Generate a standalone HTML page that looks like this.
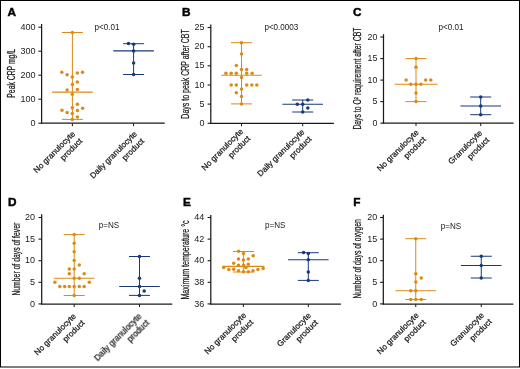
<!DOCTYPE html>
<html><head><meta charset="utf-8"><style>
html,body{margin:0;padding:0;background:#fff;}
body{width:520px;height:369px;overflow:hidden;}
svg{display:block;font-family:"Liberation Sans", sans-serif;}
text{fill:#1a1a1a;}
.ti{stroke:#1a1a1a;stroke-width:0.25px;}
.lt{stroke:#000;stroke-width:0.45px;fill:#000;}
.xl{stroke:#1a1a1a;stroke-width:0.25px;}
</style></head><body>
<svg width="520" height="369" viewBox="0 0 520 369">
<rect x="0" y="0" width="520" height="369" fill="#fff"/>
<rect x="0.5" y="0.5" width="519" height="366.5" fill="none" stroke="#000" stroke-width="1"/>
<line x1="41.60" y1="24.00" x2="41.60" y2="123.80" stroke="#1a1a1a" stroke-width="1.25"/>
<line x1="41.00" y1="123.20" x2="164.80" y2="123.20" stroke="#1a1a1a" stroke-width="1.25"/>
<line x1="38.40" y1="27.20" x2="41.60" y2="27.20" stroke="#1a1a1a" stroke-width="1.1"/>
<line x1="38.40" y1="51.20" x2="41.60" y2="51.20" stroke="#1a1a1a" stroke-width="1.1"/>
<line x1="38.40" y1="75.20" x2="41.60" y2="75.20" stroke="#1a1a1a" stroke-width="1.1"/>
<line x1="38.40" y1="99.20" x2="41.60" y2="99.20" stroke="#1a1a1a" stroke-width="1.1"/>
<line x1="38.40" y1="123.20" x2="41.60" y2="123.20" stroke="#1a1a1a" stroke-width="1.1"/>
<line x1="72.40" y1="123.20" x2="72.40" y2="126.20" stroke="#1a1a1a" stroke-width="1.0"/>
<line x1="133.60" y1="123.20" x2="133.60" y2="126.20" stroke="#1a1a1a" stroke-width="1.0"/>
<line x1="72.40" y1="32.50" x2="72.40" y2="119.40" stroke="#DB8A14" stroke-width="1.0"/>
<line x1="61.90" y1="32.50" x2="82.90" y2="32.50" stroke="#DB8A14" stroke-width="1.0"/>
<line x1="61.90" y1="119.40" x2="82.90" y2="119.40" stroke="#DB8A14" stroke-width="1.0"/>
<line x1="52.10" y1="92.10" x2="92.70" y2="92.10" stroke="#DB8A14" stroke-width="1.1"/>
<circle cx="72.40" cy="32.50" r="1.75" fill="#DB8A14"/>
<circle cx="61.80" cy="72.30" r="1.75" fill="#DB8A14"/>
<circle cx="67.10" cy="74.70" r="1.75" fill="#DB8A14"/>
<circle cx="72.30" cy="76.90" r="1.75" fill="#DB8A14"/>
<circle cx="77.30" cy="72.90" r="1.75" fill="#DB8A14"/>
<circle cx="82.50" cy="72.30" r="1.75" fill="#DB8A14"/>
<circle cx="77.30" cy="81.90" r="1.75" fill="#DB8A14"/>
<circle cx="72.40" cy="84.40" r="1.75" fill="#DB8A14"/>
<circle cx="67.10" cy="90.00" r="1.75" fill="#DB8A14"/>
<circle cx="77.40" cy="89.50" r="1.75" fill="#DB8A14"/>
<circle cx="72.30" cy="94.30" r="1.75" fill="#DB8A14"/>
<circle cx="77.40" cy="104.30" r="1.75" fill="#DB8A14"/>
<circle cx="72.30" cy="107.80" r="1.75" fill="#DB8A14"/>
<circle cx="82.60" cy="108.30" r="1.75" fill="#DB8A14"/>
<circle cx="62.00" cy="110.30" r="1.75" fill="#DB8A14"/>
<circle cx="67.10" cy="112.40" r="1.75" fill="#DB8A14"/>
<circle cx="77.40" cy="110.50" r="1.75" fill="#DB8A14"/>
<circle cx="72.30" cy="113.60" r="1.75" fill="#DB8A14"/>
<circle cx="77.40" cy="117.10" r="1.75" fill="#DB8A14"/>
<circle cx="72.30" cy="119.40" r="1.75" fill="#DB8A14"/>
<line x1="133.60" y1="43.70" x2="133.60" y2="74.50" stroke="#17397A" stroke-width="1.0"/>
<line x1="123.10" y1="43.70" x2="144.10" y2="43.70" stroke="#17397A" stroke-width="1.0"/>
<line x1="123.10" y1="74.50" x2="144.10" y2="74.50" stroke="#17397A" stroke-width="1.0"/>
<line x1="113.30" y1="50.90" x2="153.90" y2="50.90" stroke="#17397A" stroke-width="1.1"/>
<circle cx="128.50" cy="43.50" r="1.75" fill="#17397A"/>
<circle cx="133.60" cy="44.30" r="1.75" fill="#17397A"/>
<circle cx="133.60" cy="50.90" r="1.75" fill="#17397A"/>
<circle cx="133.60" cy="62.90" r="1.75" fill="#17397A"/>
<circle cx="133.60" cy="74.50" r="1.75" fill="#17397A"/>
<line x1="210.80" y1="24.50" x2="210.80" y2="123.90" stroke="#1a1a1a" stroke-width="1.25"/>
<line x1="210.20" y1="123.30" x2="333.90" y2="123.30" stroke="#1a1a1a" stroke-width="1.25"/>
<line x1="207.60" y1="27.50" x2="210.80" y2="27.50" stroke="#1a1a1a" stroke-width="1.1"/>
<line x1="207.60" y1="46.70" x2="210.80" y2="46.70" stroke="#1a1a1a" stroke-width="1.1"/>
<line x1="207.60" y1="65.80" x2="210.80" y2="65.80" stroke="#1a1a1a" stroke-width="1.1"/>
<line x1="207.60" y1="85.00" x2="210.80" y2="85.00" stroke="#1a1a1a" stroke-width="1.1"/>
<line x1="207.60" y1="104.10" x2="210.80" y2="104.10" stroke="#1a1a1a" stroke-width="1.1"/>
<line x1="207.60" y1="123.30" x2="210.80" y2="123.30" stroke="#1a1a1a" stroke-width="1.1"/>
<line x1="241.50" y1="123.30" x2="241.50" y2="126.30" stroke="#1a1a1a" stroke-width="1.0"/>
<line x1="302.70" y1="123.30" x2="302.70" y2="126.30" stroke="#1a1a1a" stroke-width="1.0"/>
<line x1="241.50" y1="42.70" x2="241.50" y2="103.90" stroke="#DB8A14" stroke-width="1.0"/>
<line x1="231.00" y1="42.70" x2="252.00" y2="42.70" stroke="#DB8A14" stroke-width="1.0"/>
<line x1="231.00" y1="103.90" x2="252.00" y2="103.90" stroke="#DB8A14" stroke-width="1.0"/>
<line x1="221.20" y1="75.30" x2="261.80" y2="75.30" stroke="#DB8A14" stroke-width="1.1"/>
<circle cx="241.50" cy="42.70" r="1.75" fill="#DB8A14"/>
<circle cx="241.50" cy="53.90" r="1.75" fill="#DB8A14"/>
<circle cx="236.30" cy="65.50" r="1.75" fill="#DB8A14"/>
<circle cx="241.50" cy="69.50" r="1.75" fill="#DB8A14"/>
<circle cx="246.70" cy="69.50" r="1.75" fill="#DB8A14"/>
<circle cx="225.90" cy="73.20" r="1.75" fill="#DB8A14"/>
<circle cx="231.20" cy="73.20" r="1.75" fill="#DB8A14"/>
<circle cx="236.30" cy="73.20" r="1.75" fill="#DB8A14"/>
<circle cx="246.70" cy="73.20" r="1.75" fill="#DB8A14"/>
<circle cx="252.10" cy="73.20" r="1.75" fill="#DB8A14"/>
<circle cx="241.50" cy="77.40" r="1.75" fill="#DB8A14"/>
<circle cx="231.20" cy="85.00" r="1.75" fill="#DB8A14"/>
<circle cx="236.30" cy="85.00" r="1.75" fill="#DB8A14"/>
<circle cx="246.70" cy="85.00" r="1.75" fill="#DB8A14"/>
<circle cx="251.90" cy="85.00" r="1.75" fill="#DB8A14"/>
<circle cx="256.80" cy="85.00" r="1.75" fill="#DB8A14"/>
<circle cx="241.50" cy="89.00" r="1.75" fill="#DB8A14"/>
<circle cx="236.30" cy="92.70" r="1.75" fill="#DB8A14"/>
<circle cx="241.50" cy="96.60" r="1.75" fill="#DB8A14"/>
<circle cx="241.50" cy="103.90" r="1.75" fill="#DB8A14"/>
<line x1="302.70" y1="100.00" x2="302.70" y2="112.00" stroke="#17397A" stroke-width="1.0"/>
<line x1="292.20" y1="100.00" x2="313.20" y2="100.00" stroke="#17397A" stroke-width="1.0"/>
<line x1="292.20" y1="112.00" x2="313.20" y2="112.00" stroke="#17397A" stroke-width="1.0"/>
<line x1="282.40" y1="104.20" x2="323.00" y2="104.20" stroke="#17397A" stroke-width="1.1"/>
<circle cx="307.80" cy="100.00" r="1.75" fill="#17397A"/>
<circle cx="297.30" cy="104.20" r="1.75" fill="#17397A"/>
<circle cx="302.70" cy="104.20" r="1.75" fill="#17397A"/>
<circle cx="307.80" cy="108.00" r="1.75" fill="#17397A"/>
<circle cx="302.70" cy="112.00" r="1.75" fill="#17397A"/>
<line x1="383.50" y1="34.20" x2="383.50" y2="123.70" stroke="#1a1a1a" stroke-width="1.25"/>
<line x1="382.90" y1="123.10" x2="513.60" y2="123.10" stroke="#1a1a1a" stroke-width="1.25"/>
<line x1="380.30" y1="37.00" x2="383.50" y2="37.00" stroke="#1a1a1a" stroke-width="1.1"/>
<line x1="380.30" y1="58.60" x2="383.50" y2="58.60" stroke="#1a1a1a" stroke-width="1.1"/>
<line x1="380.30" y1="80.10" x2="383.50" y2="80.10" stroke="#1a1a1a" stroke-width="1.1"/>
<line x1="380.30" y1="101.60" x2="383.50" y2="101.60" stroke="#1a1a1a" stroke-width="1.1"/>
<line x1="380.30" y1="123.10" x2="383.50" y2="123.10" stroke="#1a1a1a" stroke-width="1.1"/>
<line x1="416.00" y1="123.10" x2="416.00" y2="126.10" stroke="#1a1a1a" stroke-width="1.0"/>
<line x1="480.70" y1="123.10" x2="480.70" y2="126.10" stroke="#1a1a1a" stroke-width="1.0"/>
<line x1="416.00" y1="58.60" x2="416.00" y2="101.60" stroke="#DB8A14" stroke-width="1.0"/>
<line x1="405.50" y1="58.60" x2="426.50" y2="58.60" stroke="#DB8A14" stroke-width="1.0"/>
<line x1="405.50" y1="101.60" x2="426.50" y2="101.60" stroke="#DB8A14" stroke-width="1.0"/>
<line x1="394.50" y1="84.20" x2="437.50" y2="84.20" stroke="#DB8A14" stroke-width="1.1"/>
<circle cx="416.00" cy="58.60" r="1.75" fill="#DB8A14"/>
<circle cx="416.00" cy="67.20" r="1.75" fill="#DB8A14"/>
<circle cx="406.10" cy="80.10" r="1.75" fill="#DB8A14"/>
<circle cx="425.70" cy="80.10" r="1.75" fill="#DB8A14"/>
<circle cx="430.80" cy="80.10" r="1.75" fill="#DB8A14"/>
<circle cx="410.80" cy="84.20" r="1.75" fill="#DB8A14"/>
<circle cx="416.00" cy="84.20" r="1.75" fill="#DB8A14"/>
<circle cx="420.90" cy="84.20" r="1.75" fill="#DB8A14"/>
<circle cx="416.00" cy="93.00" r="1.75" fill="#DB8A14"/>
<circle cx="416.00" cy="101.60" r="1.75" fill="#DB8A14"/>
<line x1="480.70" y1="97.00" x2="480.70" y2="114.70" stroke="#17397A" stroke-width="1.0"/>
<line x1="470.20" y1="97.00" x2="491.20" y2="97.00" stroke="#17397A" stroke-width="1.0"/>
<line x1="470.20" y1="114.70" x2="491.20" y2="114.70" stroke="#17397A" stroke-width="1.0"/>
<line x1="460.40" y1="106.00" x2="501.00" y2="106.00" stroke="#17397A" stroke-width="1.1"/>
<circle cx="480.70" cy="97.00" r="1.75" fill="#17397A"/>
<circle cx="480.70" cy="106.00" r="1.75" fill="#17397A"/>
<circle cx="480.70" cy="114.70" r="1.75" fill="#17397A"/>
<line x1="41.70" y1="214.20" x2="41.70" y2="304.60" stroke="#1a1a1a" stroke-width="1.25"/>
<line x1="41.10" y1="304.00" x2="172.30" y2="304.00" stroke="#1a1a1a" stroke-width="1.25"/>
<line x1="38.50" y1="217.50" x2="41.70" y2="217.50" stroke="#1a1a1a" stroke-width="1.1"/>
<line x1="38.50" y1="239.10" x2="41.70" y2="239.10" stroke="#1a1a1a" stroke-width="1.1"/>
<line x1="38.50" y1="260.70" x2="41.70" y2="260.70" stroke="#1a1a1a" stroke-width="1.1"/>
<line x1="38.50" y1="282.30" x2="41.70" y2="282.30" stroke="#1a1a1a" stroke-width="1.1"/>
<line x1="38.50" y1="303.90" x2="41.70" y2="303.90" stroke="#1a1a1a" stroke-width="1.1"/>
<line x1="74.20" y1="304.00" x2="74.20" y2="307.00" stroke="#1a1a1a" stroke-width="1.0"/>
<line x1="139.50" y1="304.00" x2="139.50" y2="307.00" stroke="#1a1a1a" stroke-width="1.0"/>
<line x1="74.20" y1="234.60" x2="74.20" y2="295.50" stroke="#DB8A14" stroke-width="1.0"/>
<line x1="63.70" y1="234.60" x2="84.70" y2="234.60" stroke="#DB8A14" stroke-width="1.0"/>
<line x1="63.70" y1="295.50" x2="84.70" y2="295.50" stroke="#DB8A14" stroke-width="1.0"/>
<line x1="53.90" y1="278.30" x2="94.50" y2="278.30" stroke="#DB8A14" stroke-width="1.1"/>
<circle cx="74.20" cy="234.60" r="1.75" fill="#DB8A14"/>
<circle cx="74.20" cy="243.30" r="1.75" fill="#DB8A14"/>
<circle cx="74.20" cy="251.80" r="1.75" fill="#DB8A14"/>
<circle cx="74.20" cy="260.60" r="1.75" fill="#DB8A14"/>
<circle cx="79.30" cy="265.00" r="1.75" fill="#DB8A14"/>
<circle cx="69.30" cy="269.10" r="1.75" fill="#DB8A14"/>
<circle cx="74.20" cy="269.10" r="1.75" fill="#DB8A14"/>
<circle cx="69.30" cy="273.80" r="1.75" fill="#DB8A14"/>
<circle cx="84.20" cy="273.80" r="1.75" fill="#DB8A14"/>
<circle cx="74.20" cy="278.30" r="1.75" fill="#DB8A14"/>
<circle cx="79.30" cy="278.30" r="1.75" fill="#DB8A14"/>
<circle cx="54.90" cy="282.30" r="1.75" fill="#DB8A14"/>
<circle cx="89.30" cy="282.30" r="1.75" fill="#DB8A14"/>
<circle cx="59.80" cy="286.60" r="1.75" fill="#DB8A14"/>
<circle cx="64.70" cy="286.60" r="1.75" fill="#DB8A14"/>
<circle cx="69.30" cy="286.60" r="1.75" fill="#DB8A14"/>
<circle cx="74.20" cy="286.60" r="1.75" fill="#DB8A14"/>
<circle cx="79.30" cy="286.60" r="1.75" fill="#DB8A14"/>
<circle cx="84.20" cy="286.60" r="1.75" fill="#DB8A14"/>
<circle cx="74.20" cy="295.50" r="1.75" fill="#DB8A14"/>
<line x1="139.50" y1="256.50" x2="139.50" y2="295.40" stroke="#17397A" stroke-width="1.0"/>
<line x1="129.00" y1="256.50" x2="150.00" y2="256.50" stroke="#17397A" stroke-width="1.0"/>
<line x1="129.00" y1="295.40" x2="150.00" y2="295.40" stroke="#17397A" stroke-width="1.0"/>
<line x1="119.20" y1="286.50" x2="159.80" y2="286.50" stroke="#17397A" stroke-width="1.1"/>
<circle cx="139.50" cy="256.50" r="1.75" fill="#17397A"/>
<circle cx="139.50" cy="278.30" r="1.75" fill="#17397A"/>
<circle cx="139.50" cy="286.50" r="1.75" fill="#17397A"/>
<circle cx="144.20" cy="291.00" r="1.75" fill="#17397A"/>
<circle cx="139.50" cy="295.40" r="1.75" fill="#17397A"/>
<line x1="210.80" y1="215.00" x2="210.80" y2="304.60" stroke="#1a1a1a" stroke-width="1.25"/>
<line x1="210.20" y1="304.00" x2="340.90" y2="304.00" stroke="#1a1a1a" stroke-width="1.25"/>
<line x1="207.60" y1="217.50" x2="210.80" y2="217.50" stroke="#1a1a1a" stroke-width="1.1"/>
<line x1="207.60" y1="239.10" x2="210.80" y2="239.10" stroke="#1a1a1a" stroke-width="1.1"/>
<line x1="207.60" y1="260.70" x2="210.80" y2="260.70" stroke="#1a1a1a" stroke-width="1.1"/>
<line x1="207.60" y1="282.30" x2="210.80" y2="282.30" stroke="#1a1a1a" stroke-width="1.1"/>
<line x1="207.60" y1="303.90" x2="210.80" y2="303.90" stroke="#1a1a1a" stroke-width="1.1"/>
<line x1="243.40" y1="304.00" x2="243.40" y2="307.00" stroke="#1a1a1a" stroke-width="1.0"/>
<line x1="308.30" y1="304.00" x2="308.30" y2="307.00" stroke="#1a1a1a" stroke-width="1.0"/>
<line x1="243.40" y1="251.50" x2="243.40" y2="272.00" stroke="#DB8A14" stroke-width="1.0"/>
<line x1="232.90" y1="251.50" x2="253.90" y2="251.50" stroke="#DB8A14" stroke-width="1.0"/>
<line x1="232.90" y1="272.00" x2="253.90" y2="272.00" stroke="#DB8A14" stroke-width="1.0"/>
<line x1="222.40" y1="266.40" x2="264.40" y2="266.40" stroke="#DB8A14" stroke-width="1.1"/>
<circle cx="238.60" cy="251.30" r="1.75" fill="#DB8A14"/>
<circle cx="243.50" cy="253.50" r="1.75" fill="#DB8A14"/>
<circle cx="253.20" cy="255.70" r="1.75" fill="#DB8A14"/>
<circle cx="238.50" cy="258.90" r="1.75" fill="#DB8A14"/>
<circle cx="248.30" cy="258.90" r="1.75" fill="#DB8A14"/>
<circle cx="243.50" cy="260.10" r="1.75" fill="#DB8A14"/>
<circle cx="233.70" cy="263.30" r="1.75" fill="#DB8A14"/>
<circle cx="238.50" cy="265.20" r="1.75" fill="#DB8A14"/>
<circle cx="243.50" cy="265.00" r="1.75" fill="#DB8A14"/>
<circle cx="248.30" cy="264.20" r="1.75" fill="#DB8A14"/>
<circle cx="223.70" cy="267.50" r="1.75" fill="#DB8A14"/>
<circle cx="245.90" cy="267.50" r="1.75" fill="#DB8A14"/>
<circle cx="263.20" cy="268.40" r="1.75" fill="#DB8A14"/>
<circle cx="228.80" cy="269.50" r="1.75" fill="#DB8A14"/>
<circle cx="233.70" cy="269.30" r="1.75" fill="#DB8A14"/>
<circle cx="257.90" cy="269.50" r="1.75" fill="#DB8A14"/>
<circle cx="238.50" cy="270.70" r="1.75" fill="#DB8A14"/>
<circle cx="253.00" cy="270.70" r="1.75" fill="#DB8A14"/>
<circle cx="243.50" cy="271.80" r="1.75" fill="#DB8A14"/>
<circle cx="248.30" cy="271.80" r="1.75" fill="#DB8A14"/>
<line x1="308.30" y1="252.70" x2="308.30" y2="280.40" stroke="#17397A" stroke-width="1.0"/>
<line x1="297.80" y1="252.70" x2="318.80" y2="252.70" stroke="#17397A" stroke-width="1.0"/>
<line x1="297.80" y1="280.40" x2="318.80" y2="280.40" stroke="#17397A" stroke-width="1.0"/>
<line x1="288.00" y1="259.70" x2="328.60" y2="259.70" stroke="#17397A" stroke-width="1.1"/>
<circle cx="303.60" cy="252.50" r="1.75" fill="#17397A"/>
<circle cx="308.30" cy="253.50" r="1.75" fill="#17397A"/>
<circle cx="308.30" cy="259.70" r="1.75" fill="#17397A"/>
<circle cx="308.30" cy="271.90" r="1.75" fill="#17397A"/>
<circle cx="308.30" cy="280.40" r="1.75" fill="#17397A"/>
<line x1="383.30" y1="214.80" x2="383.30" y2="304.60" stroke="#1a1a1a" stroke-width="1.25"/>
<line x1="382.70" y1="304.00" x2="513.40" y2="304.00" stroke="#1a1a1a" stroke-width="1.25"/>
<line x1="380.10" y1="217.50" x2="383.30" y2="217.50" stroke="#1a1a1a" stroke-width="1.1"/>
<line x1="380.10" y1="239.10" x2="383.30" y2="239.10" stroke="#1a1a1a" stroke-width="1.1"/>
<line x1="380.10" y1="260.70" x2="383.30" y2="260.70" stroke="#1a1a1a" stroke-width="1.1"/>
<line x1="380.10" y1="282.30" x2="383.30" y2="282.30" stroke="#1a1a1a" stroke-width="1.1"/>
<line x1="380.10" y1="303.90" x2="383.30" y2="303.90" stroke="#1a1a1a" stroke-width="1.1"/>
<line x1="415.75" y1="304.00" x2="415.75" y2="307.00" stroke="#1a1a1a" stroke-width="1.0"/>
<line x1="481.25" y1="304.00" x2="481.25" y2="307.00" stroke="#1a1a1a" stroke-width="1.0"/>
<line x1="415.75" y1="238.70" x2="415.75" y2="299.50" stroke="#DB8A14" stroke-width="1.0"/>
<line x1="405.25" y1="238.70" x2="426.25" y2="238.70" stroke="#DB8A14" stroke-width="1.0"/>
<line x1="405.25" y1="299.50" x2="426.25" y2="299.50" stroke="#DB8A14" stroke-width="1.0"/>
<line x1="395.45" y1="290.75" x2="436.05" y2="290.75" stroke="#DB8A14" stroke-width="1.1"/>
<circle cx="415.75" cy="238.70" r="1.75" fill="#DB8A14"/>
<circle cx="415.75" cy="273.75" r="1.75" fill="#DB8A14"/>
<circle cx="421.25" cy="278.00" r="1.75" fill="#DB8A14"/>
<circle cx="415.75" cy="282.00" r="1.75" fill="#DB8A14"/>
<circle cx="410.75" cy="290.75" r="1.75" fill="#DB8A14"/>
<circle cx="415.75" cy="290.75" r="1.75" fill="#DB8A14"/>
<circle cx="410.75" cy="299.50" r="1.75" fill="#DB8A14"/>
<circle cx="415.75" cy="299.50" r="1.75" fill="#DB8A14"/>
<circle cx="421.25" cy="299.50" r="1.75" fill="#DB8A14"/>
<line x1="481.25" y1="256.25" x2="481.25" y2="278.00" stroke="#17397A" stroke-width="1.0"/>
<line x1="470.75" y1="256.25" x2="491.75" y2="256.25" stroke="#17397A" stroke-width="1.0"/>
<line x1="470.75" y1="278.00" x2="491.75" y2="278.00" stroke="#17397A" stroke-width="1.0"/>
<line x1="460.95" y1="265.50" x2="501.55" y2="265.50" stroke="#17397A" stroke-width="1.1"/>
<circle cx="481.25" cy="256.25" r="1.75" fill="#17397A"/>
<circle cx="481.25" cy="265.50" r="1.75" fill="#17397A"/>
<circle cx="481.25" cy="278.00" r="1.75" fill="#17397A"/>
<g style="filter:grayscale(1)">
<text x="7.50" y="15.80" font-size="11.8" text-anchor="start" font-weight="bold" class="lt">A</text>
<text x="35.50" y="29.80" font-size="9.0" text-anchor="end" font-weight="normal" >400</text>
<text x="35.50" y="53.80" font-size="9.0" text-anchor="end" font-weight="normal" >300</text>
<text x="35.50" y="77.80" font-size="9.0" text-anchor="end" font-weight="normal" >200</text>
<text x="35.50" y="101.80" font-size="9.0" text-anchor="end" font-weight="normal" >100</text>
<text x="35.50" y="125.80" font-size="9.0" text-anchor="end" font-weight="normal" >0</text>
<text class="ti" transform="translate(14.6,73.3) rotate(-90) scale(0.684,1)" font-size="10.0" text-anchor="middle">Peak CRP mg/L</text>
<text transform="translate(94.6,30.0) scale(0.92,1)" font-size="8.8">p&lt;0.01</text>
<g transform="translate(75.70,134.50) rotate(-45)"><text class="xl" font-size="8.2" text-anchor="end"><tspan x="0" y="0">No granulocyte</tspan><tspan x="0" y="10">product</tspan></text></g>
<g transform="translate(137.60,134.50) rotate(-45)"><text class="xl" font-size="8.2" text-anchor="end"><tspan x="0" y="0">Daily granulocyte</tspan><tspan x="0" y="10">product</tspan></text></g>
<text x="181.90" y="15.90" font-size="11.8" text-anchor="start" font-weight="bold" class="lt">B</text>
<text x="204.40" y="30.10" font-size="9.0" text-anchor="end" font-weight="normal" >25</text>
<text x="204.40" y="49.30" font-size="9.0" text-anchor="end" font-weight="normal" >20</text>
<text x="204.40" y="68.40" font-size="9.0" text-anchor="end" font-weight="normal" >15</text>
<text x="204.40" y="87.60" font-size="9.0" text-anchor="end" font-weight="normal" >10</text>
<text x="204.40" y="106.70" font-size="9.0" text-anchor="end" font-weight="normal" >5</text>
<text x="204.40" y="125.90" font-size="9.0" text-anchor="end" font-weight="normal" >0</text>
<text class="ti" transform="translate(188.6,73.9) rotate(-90) scale(0.702,1)" font-size="10.0" text-anchor="middle">Days to peak CRP after CBT</text>
<text transform="translate(264.4,30.0) scale(0.92,1)" font-size="8.8">p&lt;0.0003</text>
<g transform="translate(243.70,132.00) rotate(-45)"><text class="xl" font-size="8.2" text-anchor="end"><tspan x="0" y="0">No granulocyte</tspan><tspan x="0" y="10">product</tspan></text></g>
<g transform="translate(305.00,132.50) rotate(-45)"><text class="xl" font-size="8.2" text-anchor="end"><tspan x="0" y="0">Daily granulocyte</tspan><tspan x="0" y="10">product</tspan></text></g>
<text x="352.90" y="15.80" font-size="11.8" text-anchor="start" font-weight="bold" class="lt">C</text>
<text x="377.30" y="39.60" font-size="8.8" text-anchor="end" font-weight="normal" >20</text>
<text x="377.30" y="61.20" font-size="8.8" text-anchor="end" font-weight="normal" >15</text>
<text x="377.30" y="82.70" font-size="8.8" text-anchor="end" font-weight="normal" >10</text>
<text x="377.30" y="104.20" font-size="8.8" text-anchor="end" font-weight="normal" >5</text>
<text x="377.30" y="125.70" font-size="8.8" text-anchor="end" font-weight="normal" >0</text>
<text class="ti" transform="translate(361.3,78.6) rotate(-90) scale(0.684,1)" font-size="10.0" text-anchor="middle">Days to O<tspan font-size="6" dy="-3.3">2</tspan><tspan dy="3.3"> requirement after CBT</tspan></text>
<text transform="translate(438.5,30.0) scale(0.92,1)" font-size="8.8">p&lt;0.01</text>
<g transform="translate(419.20,132.90) rotate(-45)"><text class="xl" font-size="8.2" text-anchor="end"><tspan x="0" y="0">No granulocyte</tspan><tspan x="0" y="10">product</tspan></text></g>
<g transform="translate(482.70,133.50) rotate(-45)"><text class="xl" font-size="8.2" text-anchor="end"><tspan x="0" y="0">Granulocyte</tspan><tspan x="0" y="10">product</tspan></text></g>
<text x="7.90" y="205.80" font-size="11.8" text-anchor="start" font-weight="bold" class="lt">D</text>
<text x="35.10" y="220.10" font-size="9.0" text-anchor="end" font-weight="normal" >20</text>
<text x="35.10" y="241.70" font-size="9.0" text-anchor="end" font-weight="normal" >15</text>
<text x="35.10" y="263.30" font-size="9.0" text-anchor="end" font-weight="normal" >10</text>
<text x="35.10" y="284.90" font-size="9.0" text-anchor="end" font-weight="normal" >5</text>
<text x="35.10" y="306.50" font-size="9.0" text-anchor="end" font-weight="normal" >0</text>
<text class="ti" transform="translate(19.5,259.2) rotate(-90) scale(0.684,1)" font-size="10.0" text-anchor="middle">Number of days of fever</text>
<text transform="translate(98.8,228.2) scale(0.92,1)" font-size="8.8">p=NS</text>
<g transform="translate(76.50,316.70) rotate(-45)"><text class="xl" font-size="8.2" text-anchor="end"><tspan x="0" y="0">No granulocyte</tspan><tspan x="1.5" y="10.8">product</tspan></text></g>
<g transform="translate(142.00,317.00) rotate(-45)"><text class="xl" font-size="8.2" text-anchor="end"><tspan x="0" y="0">Daily granulocyte</tspan><tspan x="1.0" y="10.3">product</tspan></text></g>
<text x="182.90" y="205.80" font-size="11.8" text-anchor="start" font-weight="bold" class="lt">E</text>
<text x="204.20" y="220.10" font-size="9.0" text-anchor="end" font-weight="normal" >44</text>
<text x="204.20" y="241.70" font-size="9.0" text-anchor="end" font-weight="normal" >42</text>
<text x="204.20" y="263.30" font-size="9.0" text-anchor="end" font-weight="normal" >40</text>
<text x="204.20" y="284.90" font-size="9.0" text-anchor="end" font-weight="normal" >38</text>
<text x="204.20" y="306.50" font-size="9.0" text-anchor="end" font-weight="normal" >36</text>
<text class="ti" transform="translate(188.7,260.0) rotate(-90) scale(0.7083,1)" font-size="10.0" text-anchor="middle">Maximum temperature °c</text>
<text transform="translate(265.0,228.2) scale(0.92,1)" font-size="8.8">p=NS</text>
<g transform="translate(246.70,315.80) rotate(-45)"><text class="xl" font-size="8.2" text-anchor="end"><tspan x="0" y="0">No granulocyte</tspan><tspan x="0" y="10">product</tspan></text></g>
<g transform="translate(311.40,316.00) rotate(-45)"><text class="xl" font-size="8.2" text-anchor="end"><tspan x="0" y="0">Granulocyte</tspan><tspan x="0" y="10">product</tspan></text></g>
<text x="353.30" y="205.80" font-size="11.8" text-anchor="start" font-weight="bold" class="lt">F</text>
<text x="377.20" y="220.10" font-size="9.0" text-anchor="end" font-weight="normal" >20</text>
<text x="377.20" y="241.70" font-size="9.0" text-anchor="end" font-weight="normal" >15</text>
<text x="377.20" y="263.30" font-size="9.0" text-anchor="end" font-weight="normal" >10</text>
<text x="377.20" y="284.90" font-size="9.0" text-anchor="end" font-weight="normal" >5</text>
<text x="377.20" y="306.50" font-size="9.0" text-anchor="end" font-weight="normal" >0</text>
<text class="ti" transform="translate(361.4,258.9) rotate(-90) scale(0.6804,1)" font-size="10.0" text-anchor="middle">Number of days of oxygen</text>
<text transform="translate(440.8,228.6) scale(0.92,1)" font-size="8.8">p=NS</text>
<g transform="translate(419.20,315.80) rotate(-45)"><text class="xl" font-size="8.2" text-anchor="end"><tspan x="0" y="0">No granulocyte</tspan><tspan x="0" y="10">product</tspan></text></g>
<g transform="translate(484.60,315.70) rotate(-45)"><text class="xl" font-size="8.2" text-anchor="end"><tspan x="0" y="0">Granulocyte</tspan><tspan x="0.8" y="10">product</tspan></text></g>
</g>
</svg>
</body></html>
